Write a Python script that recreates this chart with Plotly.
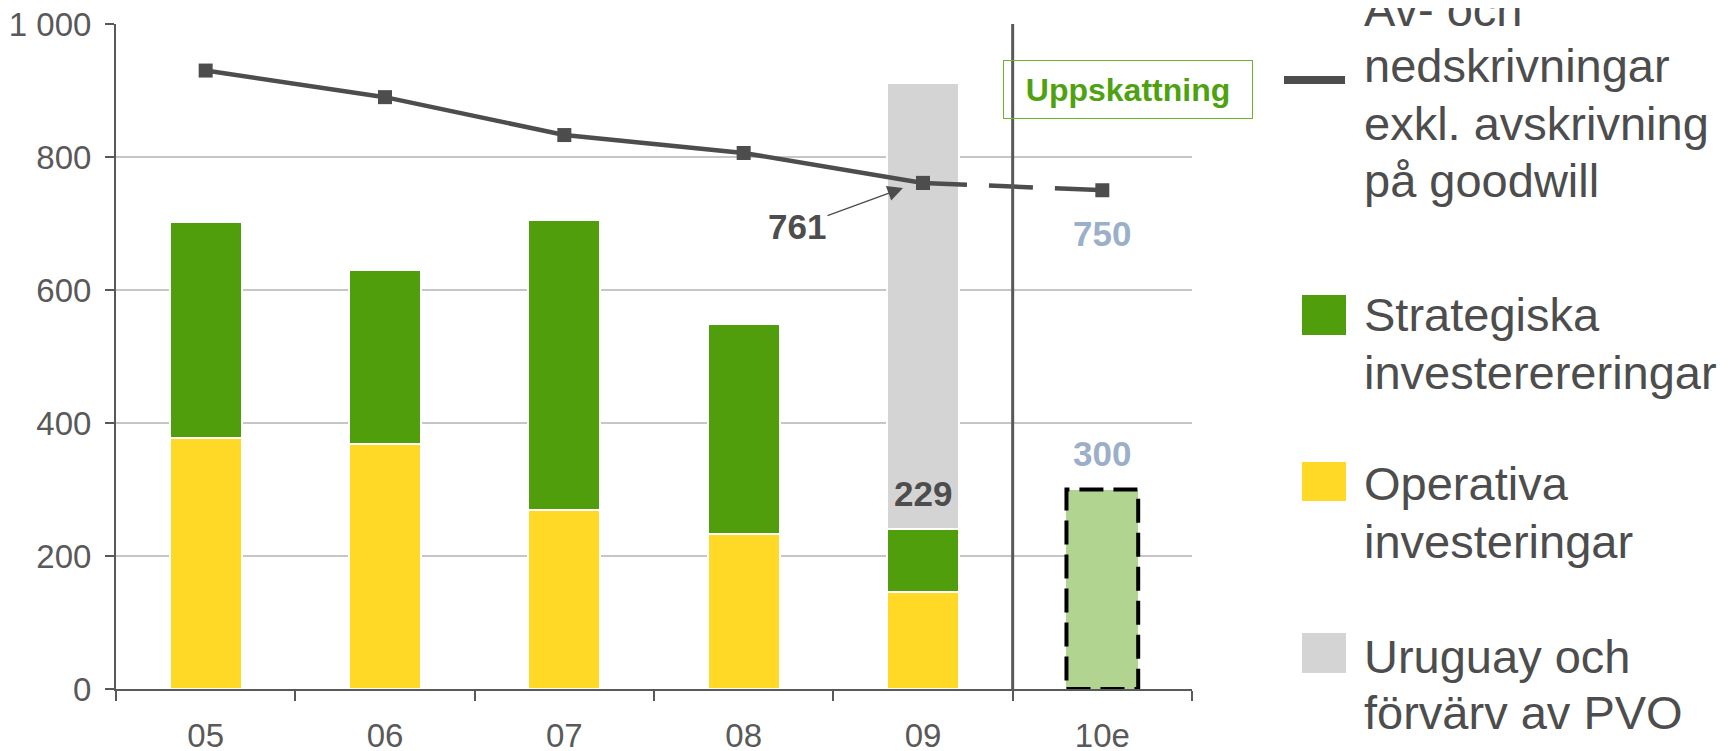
import plotly.graph_objects as go

# data
years = ["05", "06", "07", "08", "09", "10e"]
operativa = [377, 368, 269, 233, 146, None]
strategiska = [325, 262, 436, 316, 95, None]
uruguay_pvo = [None, None, None, None, 670, None]
estimate_10 = [None, None, None, None, None, 300]
avskrivningar = [930, 890, 833, 806, 761, 750]
label_09 = 229
y_tickvals = [0, 200, 400, 600, 800, 1000]
y_ticktext = ["0", "200", "400", "600", "800", "1 000"]

W, H = 1731, 751
OFF = 8  # the page body margin shifts the figure by this much
PLOT_L, PLOT_T, PLOT_W, PLOT_H = 116, 24, 1076, 665  # plot area on screen
M_L, M_T = PLOT_L - OFF, PLOT_T - OFF
M_R = W - M_L - PLOT_W
M_B = H - M_T - PLOT_H

FONT = "Arial, Liberation Sans, sans-serif"
TXT = "#4d4d4d"
YELLOW = "#FFD926"
GREEN = "#519E0C"
LIGHTGREEN = "#B1D491"
GREY = "#D4D4D4"
BLUEGREY = "#9BB0C8"
BAR_W = 0.4


def px_x(px):
    return (px - PLOT_L) / PLOT_W


def px_y(py):
    return (PLOT_T + PLOT_H - py) / PLOT_H


fig = go.Figure()

bar_line = dict(color="white", width=2)
fig.add_trace(go.Bar(x=years, y=operativa, width=BAR_W, marker=dict(color=YELLOW, line=bar_line)))
fig.add_trace(go.Bar(x=years, y=strategiska, width=BAR_W, marker=dict(color=GREEN, line=bar_line)))
fig.add_trace(go.Bar(x=years, y=uruguay_pvo, width=BAR_W, marker=dict(color=GREY, line=bar_line)))
fig.add_trace(go.Bar(x=years, y=estimate_10, width=BAR_W, marker=dict(color=LIGHTGREEN, line=dict(width=0))))

# dashed outline for the estimate bar
i_09 = years.index("09")
i_est = years.index("10e")
fig.add_shape(type="rect", xref="x", yref="y",
              x0=i_est - BAR_W / 2, x1=i_est + BAR_W / 2, y0=0, y1=estimate_10[i_est],
              line=dict(color="black", width=4, dash="24px,10px"), layer="above")

# actual vs estimated depreciation line
fig.add_trace(go.Scatter(x=years[:i_09 + 1], y=avskrivningar[:i_09 + 1], mode="lines+markers",
                         line=dict(color=TXT, width=4.5),
                         marker=dict(symbol="square", size=14, color=TXT)))
fig.add_trace(go.Scatter(x=years[i_09:], y=avskrivningar[i_09:], mode="lines+markers",
                         line=dict(color=TXT, width=4.5, dash="44px,22px"),
                         marker=dict(symbol="square", size=14, color=TXT)))

# separator between actuals and estimate
fig.add_shape(type="line", xref="x", yref="paper", x0=i_09 + 0.5, x1=i_09 + 0.5, y0=0, y1=1,
              line=dict(color="#595959", width=3), layer="above")

ann = []
ann.append(dict(x=i_09, y=avskrivningar[i_09], xref="x", yref="y", xshift=-20, yshift=-5,
                text="<b>%d</b>" % avskrivningar[i_09], showarrow=True, ax=-106, ay=39,
                arrowhead=2, arrowsize=2.2, arrowwidth=1.4, arrowcolor=TXT, standoff=0,
                font=dict(family=FONT, size=35, color=TXT)))
ann.append(dict(x=i_09, y=operativa[i_09] + strategiska[i_09], xref="x", yref="y",
                yanchor="bottom", yshift=14, showarrow=False,
                text="<b>%d</b>" % label_09, font=dict(family=FONT, size=35, color=TXT)))
ann.append(dict(x=i_est, y=avskrivningar[i_est], xref="x", yref="y",
                yanchor="top", yshift=-22, showarrow=False,
                text="<b>%d</b>" % avskrivningar[i_est], font=dict(family=FONT, size=35, color=BLUEGREY)))
ann.append(dict(x=i_est, y=estimate_10[i_est], xref="x", yref="y",
                yanchor="bottom", yshift=15, showarrow=False,
                text="<b>%d</b>" % estimate_10[i_est], font=dict(family=FONT, size=35, color=BLUEGREY)))
ann.append(dict(x=px_x(1128), y=px_y(89), xref="paper", yref="paper", showarrow=False,
                xanchor="center", yanchor="middle",
                text="<b>Uppskattning</b>", width=248, height=57, borderpad=0,
                bordercolor="#6AB42D", borderwidth=1,
                font=dict(family=FONT, size=32, color="#4EA20F")))

# legend drawn by hand (large text, multi-line)
legend_lines = [
    ("Av- och", 25), ("nedskrivningar", 82), ("exkl. avskrivning", 139), ("på goodwill", 196),
    ("Strategiska", 330), ("investerereringar", 388),
    ("Operativa", 499), ("investeringar", 557),
    ("Uruguay och", 672), ("förvärv av PVO", 728),
]
for txt, base in legend_lines:
    ann.append(dict(x=px_x(1362), y=px_y(base - 16), xref="paper", yref="paper",
                    xanchor="left", yanchor="middle", showarrow=False, text=txt,
                    font=dict(family=FONT, size=47, color=TXT)))

fig.add_shape(type="line", xref="paper", yref="paper", x0=px_x(1284), x1=px_x(1345),
              y0=px_y(80), y1=px_y(80), line=dict(color=TXT, width=8))
for col, (y0, y1) in [(GREEN, (295, 335)), (YELLOW, (462, 501)), (GREY, (633, 673))]:
    fig.add_shape(type="rect", xref="paper", yref="paper", x0=px_x(1302), x1=px_x(1346),
                  y0=px_y(y1), y1=px_y(y0), fillcolor=col, line=dict(width=0))

fig.update_layout(
    width=W, height=H,
    margin=dict(l=M_L, r=M_R, t=M_T, b=M_B, autoexpand=False),
    barmode="stack",
    showlegend=False,
    plot_bgcolor="white", paper_bgcolor="white",
    annotations=ann,
    font=dict(family=FONT, color="#595959"),
)
fig.update_xaxes(type="category", showline=True, linecolor="#595959", linewidth=2,
                 ticks="outside", tickson="boundaries", ticklen=10, tickcolor="#595959",
                 tickwidth=2, tickfont=dict(family=FONT, size=33, color="#595959"),
                 ticklabelstandoff=16, showgrid=False, range=[-0.5, 5.5])
fig.update_yaxes(range=[0, 1000], tickvals=y_tickvals, ticktext=y_ticktext,
                 showline=True, linecolor="#595959", linewidth=2,
                 ticks="outside", ticklen=9, tickcolor="#595959", tickwidth=2,
                 tickfont=dict(family=FONT, size=33, color="#595959"),
                 ticklabelstandoff=7, ticklabeloverflow="allow",
                 showgrid=True, gridcolor="#C6C6C6", gridwidth=1.5, zeroline=False)

fig.write_html("out.html")
